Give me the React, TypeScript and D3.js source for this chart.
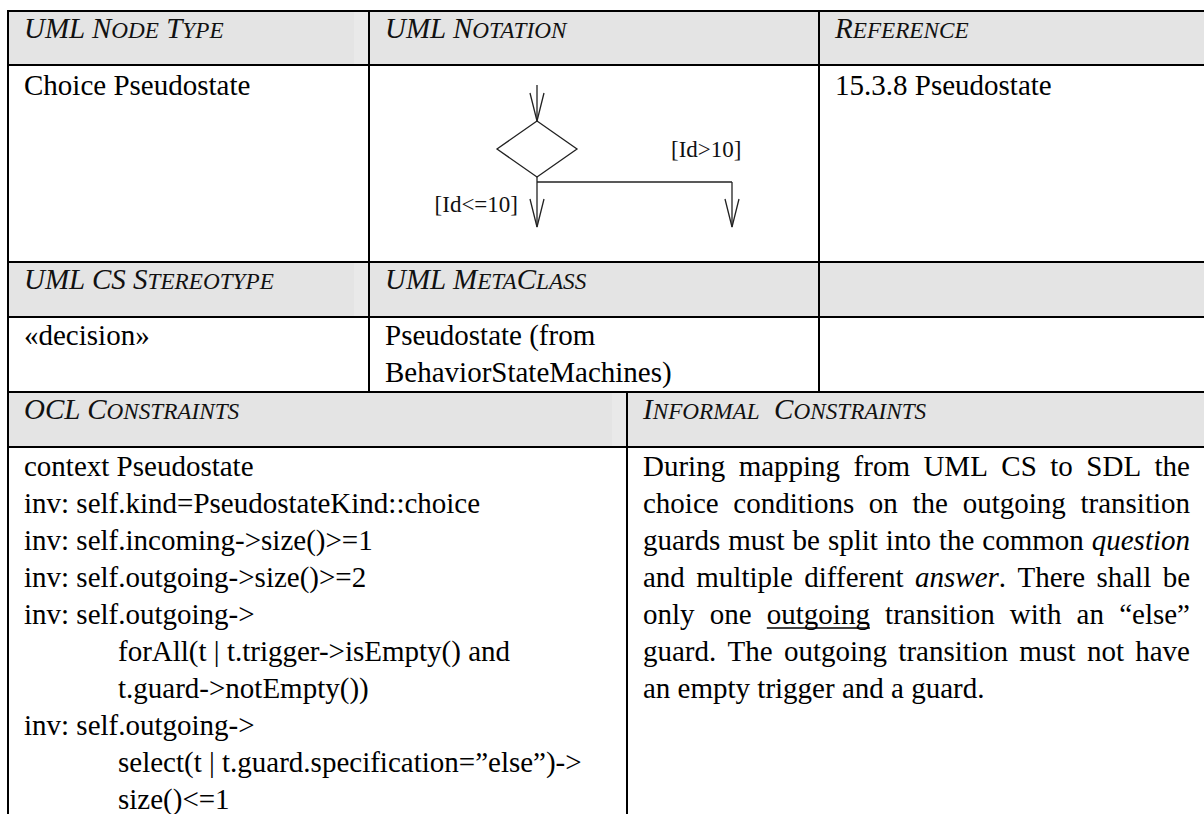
import React, { useMemo } from 'react';
import * as d3 from 'd3';

// table content
const topHeaders = ['UML Node Type', 'UML Notation', 'Reference'];
const nodeRow = ['Choice Pseudostate', '', '15.3.8 Pseudostate'];
const midHeaders = ['UML CS Stereotype', 'UML MetaClass', ''];
const stereotypeRow = [['«decision»'], ['Pseudostate (from', 'BehaviorStateMachines)'], []];
const bottomHeaders = ['OCL Constraints', 'Informal  Constraints'];
const oclLines = [
  'context Pseudostate',
  'inv: self.kind=PseudostateKind::choice',
  'inv: self.incoming->size()>=1',
  'inv: self.outgoing->size()>=2',
  'inv: self.outgoing->',
  '\tforAll(t | t.trigger->isEmpty() and',
  '\tt.guard->notEmpty())',
  'inv: self.outgoing->',
  '\tselect(t | t.guard.specification=”else”)->',
  '\tsize()<=1',
];
// *italic*, _underline_
const informalLines = [
  'During mapping from UML CS to SDL the',
  'choice conditions on the outgoing transition',
  'guards must be split into the common *question*',
  'and multiple different *answer*. There shall be',
  'only one _outgoing_ transition with an “else”',
  'guard. The outgoing transition must not have',
  'an empty trigger and a guard.',
];
// choice diagram: branch position (0 = straight down, 1 = side branch) and guard label
const guardBranches = [0, 1];
const guardLabels = ['[Id<=10]', '[Id>10]'];

const W = 1204;
const H = 814;
const FONT = '"Liberation Serif", "Times New Roman", serif';
const FS = 29;
const LINE = 37;

const rowY = [11, 65, 262, 317, 392, 447, H + 10];
const colTop = [8, 369, 819];
const colBottom = [8, 627];
const PAD = 16;

const canvas = typeof document !== 'undefined' ? document.createElement('canvas') : null;
const ctx = canvas ? canvas.getContext('2d') : null;
function measure(t: string, italic = false, size = FS) {
  if (!ctx) return t.length * size * 0.45;
  ctx.font = `${italic ? 'italic ' : ''}${size}px ${FONT}`;
  return ctx.measureText(t).width;
}

function SmallCaps({ text, x, y, size = FS }: { text: string; x: number; y: number; size?: number }) {
  const runs: { t: string; small: boolean }[] = [];
  for (const ch of text) {
    const small = ch !== ch.toUpperCase();
    const last = runs[runs.length - 1];
    if (last && last.small === small) last.t += ch;
    else runs.push({ t: ch, small });
  }
  return (
    <text x={x} y={y} fontFamily={FONT} fontStyle="italic" fill="#111" style={{ whiteSpace: 'pre' }}>
      {runs.map((r, i) => (
        <tspan key={i} fontSize={r.small ? size * 0.8 : size}>
          {r.small ? r.t.toUpperCase() : r.t}
        </tspan>
      ))}
    </text>
  );
}

type Run = { t: string; italic: boolean; underline: boolean };
function parseWord(w: string): Run[] {
  const parts = w.match(/(\*[^*]+\*|_[^_]+_|[^*_]+)/g) || [];
  return parts.map((p) => {
    if (p.startsWith('*')) return { t: p.slice(1, -1), italic: true, underline: false };
    if (p.startsWith('_')) return { t: p.slice(1, -1), italic: false, underline: true };
    return { t: p, italic: false, underline: false };
  });
}

function Justified({ lines, x, y, width }: { lines: string[]; x: number; y: number; width: number }) {
  const laid = useMemo(() => {
    return lines.map((line, li) => {
      const words = line.split(' ').map((w) => {
        const runs = parseWord(w);
        let off = 0;
        const placed = runs.map((r) => {
          const wd = measure(r.t, r.italic);
          const p = { ...r, dx: off, w: wd };
          off += wd;
          return p;
        });
        return { runs: placed, w: off };
      });
      const total = d3.sum(words, (w) => w.w);
      const last = li === lines.length - 1;
      const gap = last || words.length < 2 ? measure(' ') : (width - total) / (words.length - 1);
      let cx = 0;
      return words.map((w) => {
        const o = { ...w, x: cx };
        cx += w.w + gap;
        return o;
      });
    });
  }, [lines, width]);
  return (
    <g>
      {laid.map((words, li) =>
        words.map((w, wi) =>
          w.runs.map((r, ri) => (
            <g key={`${li}-${wi}-${ri}`}>
              <text x={x + w.x + r.dx} y={y + li * LINE} fontFamily={FONT} fontSize={FS}
                fontStyle={r.italic ? 'italic' : 'normal'} fill="#000">
                {r.t}
              </text>
              {r.underline && (
                <line x1={x + w.x + r.dx} x2={x + w.x + r.dx + r.w} y1={y + li * LINE + 4} y2={y + li * LINE + 4}
                  stroke="#000" strokeWidth={1.6} />
              )}
            </g>
          ))
        )
      )}
    </g>
  );
}

function ChoiceDiagram() {
  // notation cell spans x 369..819, y 65..262
  const bx = d3.scaleLinear().domain([0, 1]).range([537, 732]);
  const yIn = 85, dTop = 121, dBot = 177, bar = 182, tip = 227;
  const halfW = 40;
  const cy = (dTop + dBot) / 2;
  const x0 = bx(0);
  const arrow = (x: number, t: number) => `M${x - 7},${t - 28}L${x},${t}L${x + 7},${t - 28}`;
  const stroke = '#222';
  return (
    <g fill="none" stroke={stroke} strokeWidth={1.3}>
      <line x1={x0} x2={x0} y1={yIn} y2={dTop} />
      <path d={arrow(x0, dTop)} />
      <path d={`M${x0},${dTop}L${x0 + halfW},${cy}L${x0},${dBot}L${x0 - halfW},${cy}Z`} />
      <line x1={x0} x2={bx(1)} y1={bar} y2={bar} />
      {guardBranches.map((b) => (
        <g key={b}>
          <line x1={bx(b)} x2={bx(b)} y1={b === 0 ? dBot : bar} y2={tip} />
          <path d={arrow(bx(b), tip)} />
        </g>
      ))}
      <text x={bx(0) - 19} y={212} textAnchor="end" fontFamily={FONT} fontSize={23} fill="#111" stroke="none">
        {guardLabels[0]}
      </text>
      <text x={bx(1) - 61} y={157} fontFamily={FONT} fontSize={23} fill="#111" stroke="none">
        {guardLabels[1]}
      </text>
    </g>
  );
}

export default function App() {
  const headerRows = [0, 2, 4];
  const gray = '#e4e4e4';
  return (
    <svg width={W} height={H} style={{ position: 'absolute', left: 0, top: 0, display: 'block', background: '#fff' }}>
      {headerRows.map((r) => (
        <rect key={r} x={colTop[0]} y={rowY[r]} width={W - colTop[0]} height={rowY[r + 1] - rowY[r]} fill={gray} />
      ))}
      <rect x={354} y={rowY[0]} width={15} height={rowY[1] - rowY[0]} fill="#e9e9e9" />
      <rect x={354} y={rowY[2]} width={15} height={rowY[3] - rowY[2]} fill="#e9e9e9" />
      <rect x={612} y={rowY[4]} width={15} height={rowY[5] - rowY[4]} fill="#e9e9e9" />

      {/* grid */}
      <g stroke="#000" strokeWidth={2}>
        {rowY.slice(0, 6).map((y) => (
          <line key={y} x1={colTop[0] - 1} x2={W} y1={y} y2={y} />
        ))}
        <line x1={colTop[0]} x2={colTop[0]} y1={rowY[0]} y2={H} />
        {colTop.slice(1).map((x) => (
          <line key={x} x1={x} x2={x} y1={rowY[0]} y2={rowY[4]} />
        ))}
        {colBottom.slice(1).map((x) => (
          <line key={x} x1={x} x2={x} y1={rowY[4]} y2={H} />
        ))}
      </g>

      {/* headers */}
      {topHeaders.map((t, i) => (
        <SmallCaps key={i} text={t} x={colTop[i] + PAD} y={rowY[0] + 27} />
      ))}
      {midHeaders.map((t, i) => (
        <SmallCaps key={i} text={t} x={colTop[i] + PAD} y={rowY[2] + 27} />
      ))}
      {bottomHeaders.map((t, i) => (
        <SmallCaps key={i} text={t} x={colBottom[i] + PAD} y={rowY[4] + 27} />
      ))}

      {/* body */}
      <g fontFamily={FONT} fontSize={FS} fill="#000">
        {nodeRow.map((t, i) => (
          <text key={i} x={colTop[i] + PAD} y={rowY[1] + 30}>{t}</text>
        ))}
        {stereotypeRow.map((ls, i) =>
          ls.map((t, j) => (
            <text key={`${i}-${j}`} x={colTop[i] + PAD} y={rowY[3] + 28 + j * LINE}>{t}</text>
          ))
        )}
        {oclLines.map((t, i) => (
          <text key={i} x={colBottom[0] + PAD + (t.startsWith('\t') ? 94 : 0)} y={rowY[5] + 29 + i * LINE}>
            {t.replace('\t', '')}
          </text>
        ))}
      </g>
      <Justified lines={informalLines} x={colBottom[1] + PAD} y={rowY[5] + 29} width={1190 - colBottom[1] - PAD} />

      <ChoiceDiagram />
    </svg>
  );
}
